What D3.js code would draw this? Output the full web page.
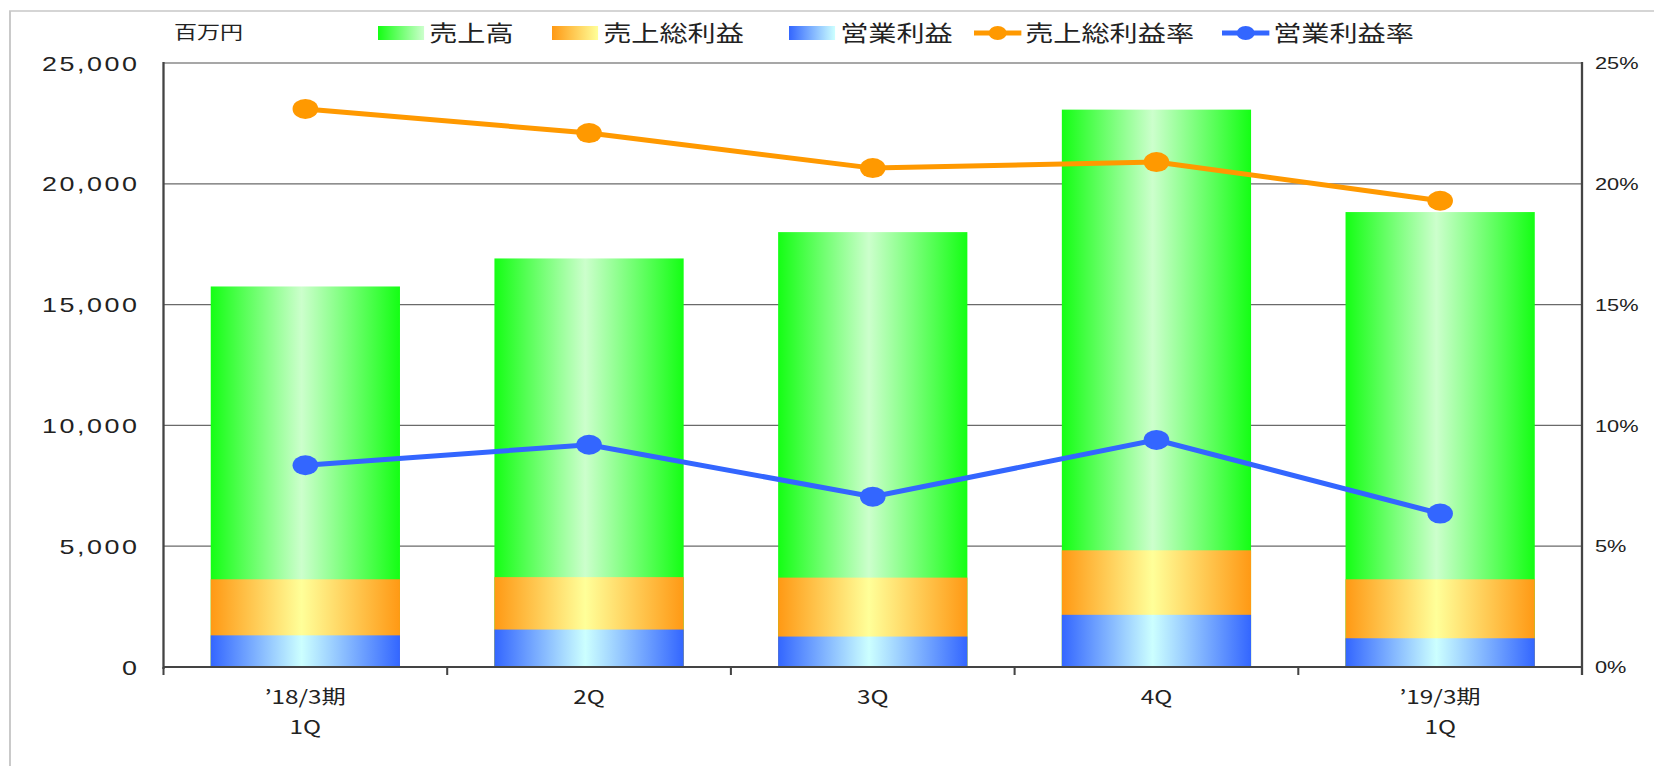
<!DOCTYPE html>
<html>
<head>
<meta charset="utf-8">
<script src="https://cdn.jsdelivr.net/npm/d3@7"></script>
<style>
  body { margin: 0; background: #fff; }
  text { font-family: "Liberation Sans", Arial, "Noto Sans CJK JP", sans-serif; fill: #222; }
  .jp { font-family: "Noto Sans CJK JP", sans-serif; }
</style>
</head>
<body>
<div class="chart"></div>
<script>
// DATA ------------------------------------
const catLine1 = ["’18/3期", "2Q", "3Q", "4Q", "’19/3期"]
const catLine2 = ["1Q", "", "", "", "1Q"]
const sales = [15750, 16910, 18000, 23070, 18830]      // 売上高
const gross = [3630, 3720, 3700, 4830, 3630]           // 売上総利益
const operating = [1310, 1550, 1260, 2160, 1190]       // 営業利益
const grossRate = [23.1, 22.1, 20.65, 20.9, 19.3]      // 売上総利益率
const opRate = [8.35, 9.2, 7.05, 9.4, 6.35]            // 営業利益率
const leftTicks = [0, 5000, 10000, 15000, 20000, 25000]
const rightTicks = [0, 5, 10, 15, 20, 25]

// CHART INIT ------------------------------
// the original chart is stretched sideways, so everything is drawn in a
// narrower space and scaled out horizontally
const W = 1654, H = 766
const sx = 1.28
const lw = W / sx

const margin = {top: 63, left: 163.5 / sx, right: lw - 1582 / sx, bottom: H - 667}
const width = lw - margin.left - margin.right
const height = H - margin.top - margin.bottom

const svg_base = d3.select(".chart").append("svg")
    .attr("width", W)
    .attr("height", H)
const root = svg_base.append("g")
    .attr("transform", `scale(${sx},1)`)

// light outer frame
root.append("rect")
    .attr("x", 10 / sx).attr("y", 11)
    .attr("width", lw).attr("height", H)
    .attr("fill", "none").attr("stroke", "#c8c8c8").attr("stroke-width", 1.5)

const svg = root.append("g")
    .attr("transform", `translate(${margin.left},${margin.top})`)

const xScale = d3.scaleBand()
    .domain(d3.range(catLine1.length))
    .range([0, width])
    .paddingInner(0)
const barW = xScale.bandwidth() * 0.667

const yScale = d3.scaleLinear().domain([0, 25000]).range([height, 0])
const rScale = d3.scaleLinear().domain([0, 25]).range([height, 0])

// gradients
const defs = svg_base.append("defs")
function grad(id, edge, mid, swatch) {
    const g = defs.append("linearGradient").attr("id", id)
        .attr("x1", "0%").attr("x2", "100%").attr("y1", "0%").attr("y2", "0%")
    const stops = swatch ? [[0, edge], [100, mid]] : [[0, edge], [48, mid], [100, edge]]
    stops.forEach(s => g.append("stop").attr("offset", s[0] + "%").attr("stop-color", s[1]))
}
grad("gGreen", "#14ff14", "#ccffcc")
grad("gOrange", "#ff9914", "#ffff99")
grad("gBlue", "#3366ff", "#ccffff")
grad("sGreen", "#14ff14", "#ccffcc", true)
grad("sOrange", "#ff9914", "#ffff99", true)
grad("sBlue", "#3366ff", "#ccffff", true)

// gridlines
svg.append("g").selectAll("line")
    .data(leftTicks.slice(1))
    .join("line")
        .attr("x1", 0).attr("x2", width)
        .attr("y1", d => yScale(d)).attr("y2", d => yScale(d))
        .attr("stroke", d => d === 25000 ? "#8a8a8a" : "#6a6a6a")
        .attr("stroke-width", 1.3)

// bars (overlapping, not stacked)
const series = [
    {vals: sales, fill: "url(#gGreen)"},
    {vals: gross, fill: "url(#gOrange)"},
    {vals: operating, fill: "url(#gBlue)"}
]
series.forEach(s => {
    svg.append("g").selectAll("rect")
        .data(s.vals)
        .join("rect")
            .attr("x", (d, i) => xScale(i) + (xScale.bandwidth() - barW) / 2)
            .attr("y", d => yScale(d))
            .attr("width", barW)
            .attr("height", d => height - yScale(d))
            .attr("fill", s.fill)
})

// axes
const axisColor = "#444"
svg.append("line").attr("x1", 0).attr("x2", 0).attr("y1", -1).attr("y2", height + 2)
    .attr("stroke", axisColor).attr("stroke-width", 1.8)
svg.append("line").attr("x1", width).attr("x2", width).attr("y1", -1).attr("y2", height + 8)
    .attr("stroke", axisColor).attr("stroke-width", 1.8)
svg.append("line").attr("x1", 0).attr("x2", width).attr("y1", height).attr("y2", height)
    .attr("stroke", axisColor).attr("stroke-width", 2.2)
svg.append("g").selectAll("line")
    .data(d3.range(catLine1.length + 1))
    .join("line")
        .attr("x1", i => i * xScale.bandwidth()).attr("x2", i => i * xScale.bandwidth())
        .attr("y1", height).attr("y2", height + 8)
        .attr("stroke", axisColor).attr("stroke-width", 1.6)

// left labels
svg.append("g").selectAll("text")
    .data(leftTicks)
    .join("text")
        .attr("x", 109 - margin.left)
        .attr("y", d => yScale(d))
        .attr("dy", "0.36em")
        .attr("text-anchor", "end")
        .style("font-size", "21px")
        .style("letter-spacing", "2px")
        .text(d3.format(","))

// right labels
svg.append("g").selectAll("text")
    .data(rightTicks)
    .join("text")
        .attr("x", 1595 / sx - margin.left)
        .attr("y", d => rScale(d))
        .attr("dy", "0.36em")
        .style("font-size", "17px")
        .text(d => d + "%")

// category labels
const catG = svg.append("g").selectAll("g")
    .data(catLine1)
    .join("g")
        .attr("transform", (d, i) => `translate(${xScale(i) + xScale.bandwidth() / 2},0)`)
catG.append("text")
    .attr("class", "jp")
    .attr("y", 697 - margin.top).attr("dy", "0.36em")
    .attr("text-anchor", "middle")
    .style("font-size", "19px")
    .text(d => d)
catG.append("text")
    .attr("class", "jp")
    .attr("y", 727 - margin.top).attr("dy", "0.36em")
    .attr("text-anchor", "middle")
    .style("font-size", "19px")
    .text((d, i) => catLine2[i])

// rate lines
const rateSeries = [
    {vals: grossRate, color: "#ff9900"},
    {vals: opRate, color: "#3366ff"}
]
const line = d3.line()
    .x((d, i) => xScale(i) + xScale.bandwidth() / 2)
    .y(d => rScale(d))
rateSeries.forEach(s => {
    svg.append("path")
        .datum(s.vals)
        .attr("d", line)
        .attr("fill", "none")
        .attr("stroke", s.color)
        .attr("stroke-width", 5)
    svg.append("g").selectAll("circle")
        .data(s.vals)
        .join("circle")
            .attr("cx", (d, i) => xScale(i) + xScale.bandwidth() / 2)
            .attr("cy", d => rScale(d))
            .attr("r", 10)
            .attr("fill", s.color)
})

// LEGEND ----------------------------------
const legY = 33
root.append("text").attr("class", "jp")
    .attr("x", 174 / sx).attr("y", legY).attr("dy", "0.36em")
    .style("font-size", "18px")
    .text("百万円")

const legend = [
    {label: "売上高", type: "box", fill: "url(#sGreen)", x: 378},
    {label: "売上総利益", type: "box", fill: "url(#sOrange)", x: 552},
    {label: "営業利益", type: "box", fill: "url(#sBlue)", x: 789},
    {label: "売上総利益率", type: "line", fill: "#ff9900", x: 974},
    {label: "営業利益率", type: "line", fill: "#3366ff", x: 1222}
]
const legG = root.append("g").selectAll("g")
    .data(legend)
    .join("g")
        .attr("transform", d => `translate(${d.x / sx},${legY})`)
legG.filter(d => d.type === "box").append("rect")
    .attr("x", 0).attr("y", -7)
    .attr("width", 36).attr("height", 14)
    .attr("fill", d => d.fill)
legG.filter(d => d.type === "line").append("line")
    .attr("x1", 0).attr("x2", 37).attr("y1", 0).attr("y2", 0)
    .attr("stroke", d => d.fill).attr("stroke-width", 5)
legG.filter(d => d.type === "line").append("circle")
    .attr("cx", 18.5).attr("cy", 0).attr("r", 7)
    .attr("fill", d => d.fill)
legG.append("text")
    .attr("class", "jp")
    .attr("x", 40).attr("dy", "0.36em")
    .style("font-size", "22px")
    .text(d => d.label)
</script>
</body>
</html>
